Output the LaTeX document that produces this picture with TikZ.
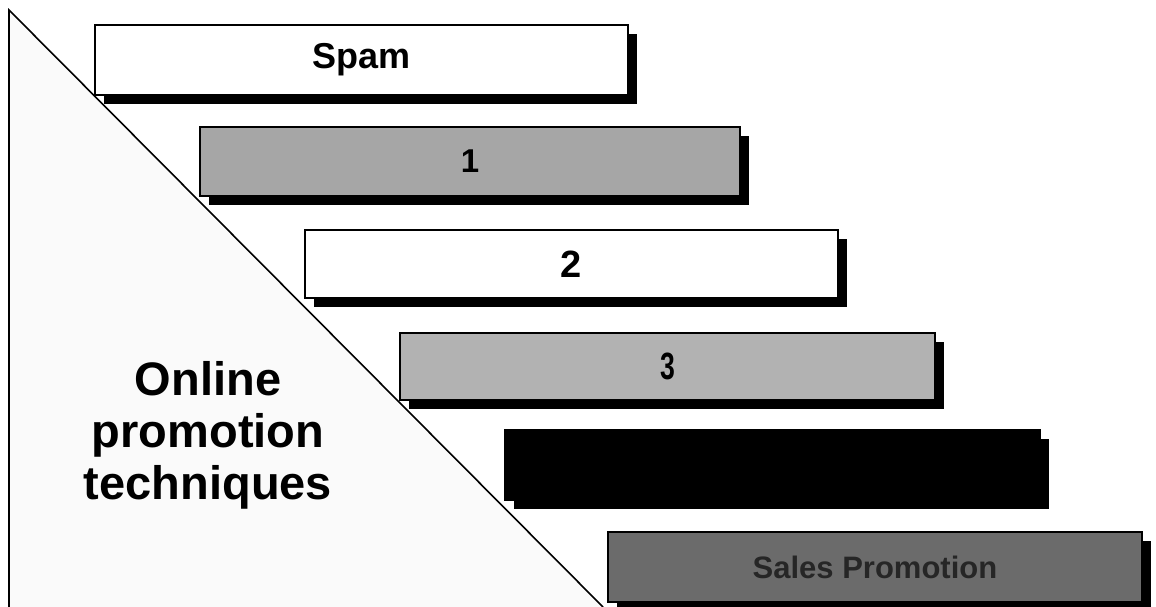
\documentclass[tikz,border=0pt]{standalone}
\usepackage{fontspec}
\setmainfont{Liberation Sans}
\usetikzlibrary{shadows}
\begin{document}
\begin{tikzpicture}[x=1pt,y=-1pt,
  stepbox/.style={draw=black, line width=2.5pt, inner sep=0pt,
    minimum height=70pt, font=\bfseries,
    general shadow={fill=black, shadow xshift=9pt, shadow yshift=-9pt}},
  tri/.style={draw=black, line width=1.6pt}]
\useasboundingbox (0,0) rectangle (1156,607);
\fill[white] (0,0) rectangle (1156,607);
% triangle
\coordinate (ta) at (9,10);
\coordinate (tb) at (9,607);
\coordinate (tc) at (603,607);
\fill[black!2] (ta) -- (tb) -- (tc) -- cycle;
\draw[tri] (tb) -- (ta) -- (tc);
% boxes
\node[stepbox, fill=white, minimum width=533pt, font=\fontsize{36}{40}\selectfont\bfseries] (s0) at (361.5,60) {Spam};
\node[stepbox, fill=black!35, minimum width=540pt, minimum height=69pt, font=\fontsize{33}{38}\selectfont\bfseries] (s1) at (470,161.5) {1};
\node[stepbox, fill=white, minimum width=533pt, minimum height=68pt, font=\fontsize{38}{42}\selectfont\bfseries] (s2) at (571.5,264) {2};
\node[stepbox, fill=black!30, minimum width=535pt, minimum height=67pt, font=\fontsize{38}{42}\selectfont\bfseries] (s3) at (667.5,366.5) {\scalebox{0.7}[1]{3}};
\node[stepbox, fill=black, minimum width=535pt] (s4) at (772.5,465) {};
\node[stepbox, fill=black!58, minimum width=534pt, text=black!85, font=\fontsize{31}{36}\selectfont\bfseries] (s5) at (875,567) {Sales Promotion};
% label
\node[align=center, font=\fontsize{47}{52}\selectfont\bfseries] (lbl) at (208,435) {Online\\promotion\\techniques};
\end{tikzpicture}
\end{document}
